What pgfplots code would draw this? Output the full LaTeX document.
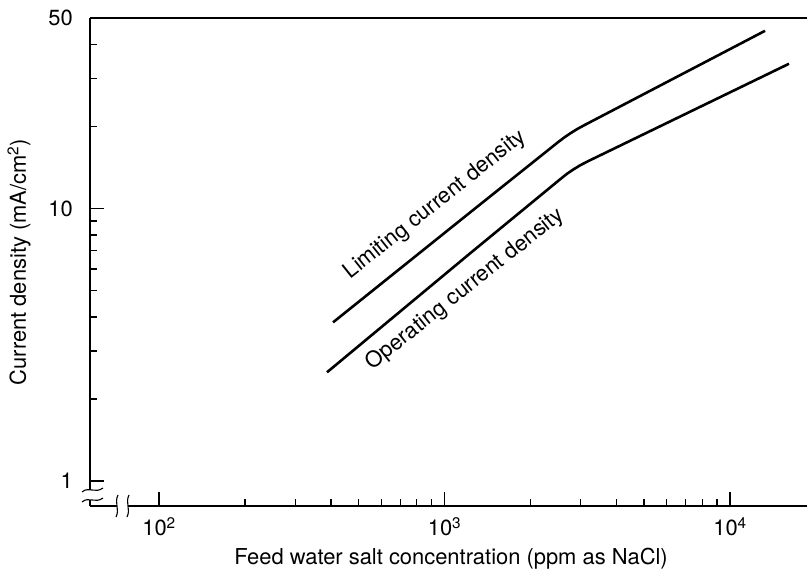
\documentclass[border=0pt]{standalone}
\usepackage{fontspec}
\setmainfont{TeX Gyre Heros}
\usepackage{pgfplots}
\pgfplotsset{compat=1.18}

% pixel-ish scale: 1bp per reference pixel
\pgfplotstableread{
x y
406.9 3.823
1228 9.667
2498 17.51
2624 18.21
2762 18.89
2914 19.56
3080 20.19
13264 44.87
}\limiting

\pgfplotstableread{
x y
387.7 2.507
1228 6.842
2559 12.88
2688 13.42
2830 13.92
2985 14.40
3156 14.85
16094 33.97
}\operating

\newcommand\bigfont{\fontsize{22}{26}\selectfont}

\begin{document}
\bigfont
\begin{tikzpicture}[font=\bigfont]
\begin{axis}[
  every axis/.append style={font=\bigfont},
  scale only axis,
  width=717bp, height=488bp,
  xmode=log, ymode=log,
  xmin=57.3, xmax=18612,
  ymin=0.81, ymax=50,
  axis x line*=bottom, axis y line*=left,
  axis line style={-, line width=1.3bp},
  tick align=inside,
  major tick length=14bp, minor tick length=7bp,
  every tick/.style={black, line width=1.2bp},
  xtick={100,1000,10000},
  xticklabels={10\textsuperscript{2},10\textsuperscript{3},10\textsuperscript{4}},
  minor xtick={200,300,400,500,600,700,800,900,2000,3000,4000,5000,6000,7000,8000,9000},
  ytick={1,10,50},
  yticklabels={1,10,50},
  minor ytick={2,3,4,5,6,7,8,9,20,30,40},
  ticklabel style={font=\bigfont},
  label style={font=\bigfont},
  yticklabel style={inner sep=0pt, anchor=east, xshift=-17bp},
  xticklabel style={inner sep=0pt, anchor=north, yshift=-11bp},
  xlabel={Feed water salt concentration (ppm as NaCl)},
  ylabel={Current density (mA/cm\textsuperscript{2})},
  xlabel style={at={(axis description cs:0.5035,-0.1209)}, anchor=base, inner sep=0pt},
  ylabel style={at={(axis description cs:-0.0893,0.5)}, anchor=base, inner sep=0pt},
  clip=false,
]
\addplot[black, line width=2.6bp, line join=round] table[x=x, y=y] {\limiting};
\addplot[black, line width=2.6bp, line join=round] table[x=x, y=y] {\operating};

\node[rotate=38.5, font=\bigfont] at (axis cs:927,10.3) {Limiting current density};
\node[rotate=38.5, font=\bigfont] at (axis cs:1180,5.05) {Operating current density};

\coordinate (O) at (rel axis cs:0,0);
\draw[line width=1.3bp] (rel axis cs:0,1) -- (rel axis cs:1,1);
\end{axis}

% axis break marks
\begin{scope}[shift={(O)}, x=1bp, y=1bp, line width=1.1bp]
  \fill[white] (-1,6) rectangle (1,16);
  \draw (-8,14) .. controls (-1,20) and (5,12) .. (13,18);
  \draw (-8,4) .. controls (-1,10) and (5,2) .. (13,8);
  \fill[white] (27,-1) rectangle (38,1);
  \draw (26,-11) .. controls (30,-3) and (24,3) .. (28,11);
  \draw (37,-11) .. controls (41,-3) and (35,3) .. (39,11);
\end{scope}

\pgfresetboundingbox
\path (O) ++(-90bp,-66bp) rectangle ++(807bp,572bp);
\end{tikzpicture}
\end{document}
